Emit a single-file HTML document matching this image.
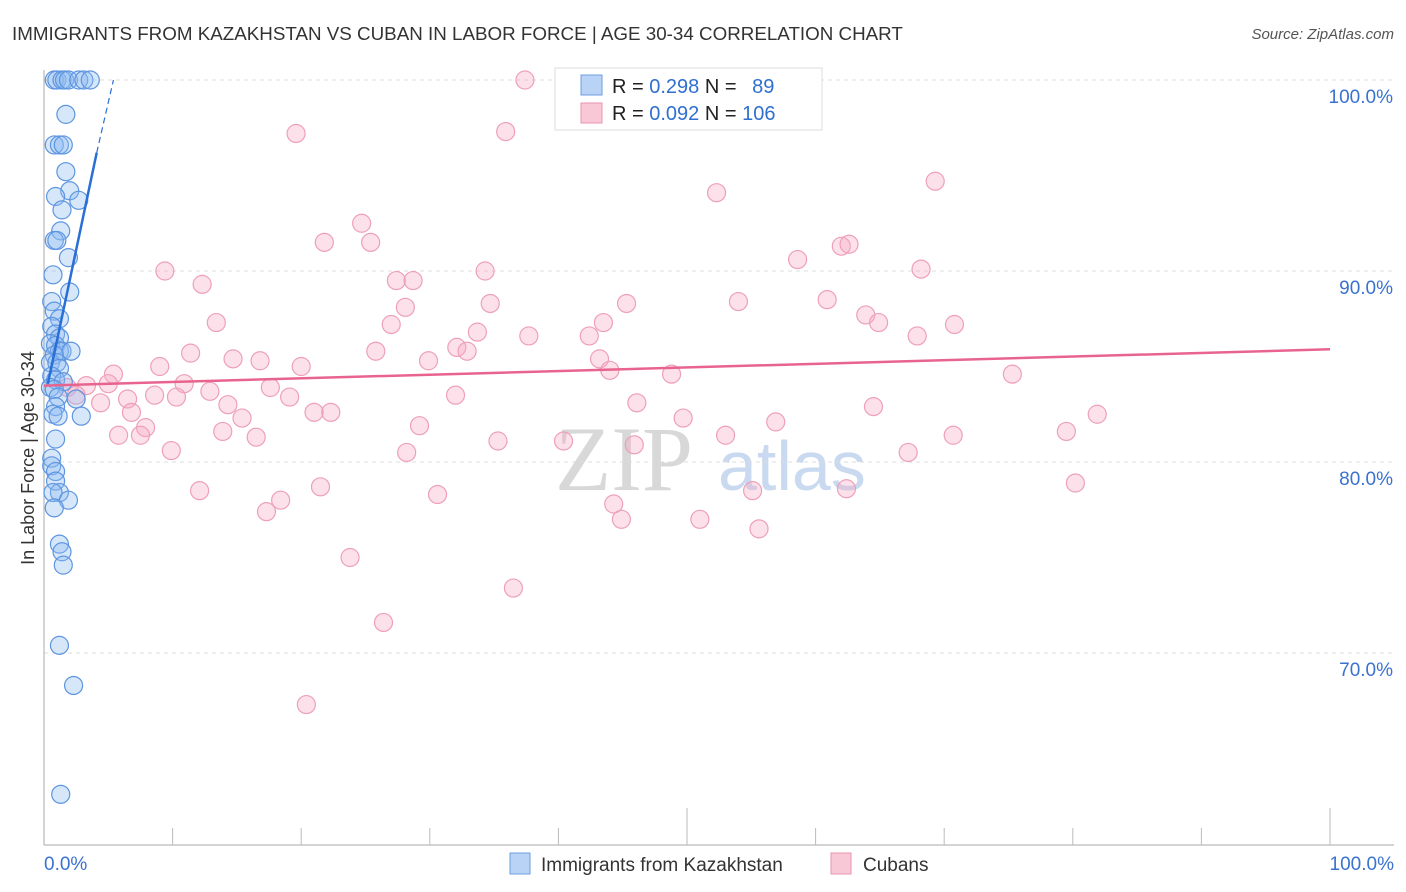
<!DOCTYPE html>
<html><head><meta charset="utf-8"><style>
body{margin:0;background:#fff;font-family:"Liberation Sans",sans-serif}
svg{display:block}
</style></head><body>
<svg id="c" width="1406" height="892" xmlns="http://www.w3.org/2000/svg">
<text x="12" y="40" font-size="18.8" fill="#333">IMMIGRANTS FROM KAZAKHSTAN VS CUBAN IN LABOR FORCE | AGE 30-34 CORRELATION CHART</text>
<text x="1394" y="39" font-size="15" fill="#555" text-anchor="end" font-style="italic">Source: ZipAtlas.com</text>
<text x="34" y="458" font-size="18" fill="#333" text-anchor="middle" transform="rotate(-90 34 458)">In Labor Force | Age 30-34</text>
<g><text x="555" y="490" font-size="92" fill="#d8d8d8" font-family="Liberation Serif,serif">ZIP</text><text x="718" y="490" font-size="70" fill="#c9daf0">atlas</text></g>
<g id="grid"></g><g id="axes"></g><g id="pts"></g><g id="lines"></g>
<g>
<rect x="555" y="68" width="267" height="62" fill="#fff" stroke="#ddd"/>
<rect x="581" y="75" width="21" height="20" fill="#b8d3f5" stroke="#6e9fe0"/>
<rect x="581" y="103" width="21" height="20" fill="#f9c8d6" stroke="#e895b0"/>
<text x="612" y="93" font-size="20" fill="#222">R = <tspan fill="#2f6fd0">0.298</tspan>   N = <tspan fill="#2f6fd0" dx="10">89</tspan></text>
<text x="612" y="120" font-size="20" fill="#222">R = <tspan fill="#2f6fd0">0.092</tspan>   N = <tspan fill="#2f6fd0">106</tspan></text>
</g>
<g>
<rect x="510" y="853" width="20" height="21" fill="#b8d3f5" stroke="#6e9fe0"/>
<text x="541" y="871" font-size="19" fill="#333">Immigrants from Kazakhstan</text>
<rect x="831" y="853" width="20" height="21" fill="#f9c8d6" stroke="#e895b0"/>
<text x="863" y="871" font-size="19" fill="#333">Cubans</text>
</g>
</svg>
<script>
const yTicks=[100,90,80,70];
const yTickLabels=["100.0%","90.0%","80.0%","70.0%"];
const blueX=[0.8,1,1.4,1.6,1.9,2.7,3.1,3.6,1.7,0.8,1.2,1.5,1.7,2,0.9,2.7,1.4,1.3,0.8,1,1.9,0.7,2,0.6,0.8,1.2,0.6,0.9,1.2,0.5,0.9,1.2,1.4,2.1,0.8,0.5,1,1.2,0.6,0.9,1.5,0.5,0.8,1.1,2.5,0.9,0.7,1.1,2.9,0.9,0.6,0.6,0.9,0.9,1.2,0.7,1.9,0.8,1.2,1.4,1.5,1.2,2.3,1.3];
const blueY=[100,100,100,100,100,100,100,100,98.2,96.6,96.6,96.6,95.2,94.2,93.9,93.7,93.2,92.1,91.6,91.6,90.7,89.8,88.9,88.4,87.9,87.5,87.1,86.7,86.5,86.2,86.1,85.8,85.8,85.8,85.6,85.2,85.2,84.9,84.5,84.3,84.2,83.9,83.8,83.4,83.3,82.9,82.5,82.4,82.4,81.2,80.2,79.8,79.5,79,78.4,78.4,78,77.6,75.7,75.3,74.6,70.4,68.3,62.6];
const pinkX=[37.4,19.6,35.9,52.3,69.3,24.7,21.8,25.4,62,62.6,58.6,9.4,34.3,68.2,12.3,27.4,28.7,34.7,45.3,28.1,54,60.9,63.9,64.9,13.4,27,43.5,33.7,37.7,42.4,67.9,70.8,32.1,32.9,25.8,11.4,29.9,43.2,14.7,16.8,9,20,44,48.8,5.4,75.3,10.9,5,17.6,12.9,3.3,1.8,2.5,8.6,10.3,19.1,32,4.4,6.5,14.3,46.1,64.5,6.8,15.4,21,22.3,49.7,56.9,81.9,29.2,13.9,7.9,5.8,7.5,16.5,35.3,53,40.4,70.7,79.5,45.9,9.9,28.2,67.2,12.1,21.5,55.1,62.4,80.2,30.6,18.4,44.3,17.3,44.9,51,55.6,23.8,36.5,26.4,20.4];
const pinkY=[100,97.2,97.3,94.1,94.7,92.5,91.5,91.5,91.3,91.4,90.6,90,90,90.1,89.3,89.5,89.5,88.3,88.3,88.1,88.4,88.5,87.7,87.3,87.3,87.2,87.3,86.8,86.6,86.6,86.6,87.2,86,85.8,85.8,85.7,85.3,85.4,85.4,85.3,85,85,84.8,84.6,84.6,84.6,84.1,84.1,83.9,83.7,84,83.9,83.5,83.5,83.4,83.4,83.5,83.1,83.3,83,83.1,82.9,82.6,82.3,82.6,82.6,82.3,82.1,82.5,81.9,81.6,81.8,81.4,81.4,81.3,81.1,81.4,81.1,81.4,81.6,80.9,80.6,80.5,80.5,78.5,78.7,78.5,78.6,78.9,78.3,78,77.8,77.4,77,77,76.5,75,73.4,71.6,67.3];
const NS="http://www.w3.org/2000/svg";
const X=v=>44+v*12.86, Y=v=>844-(v-60)*19.1;
function mk(t,a,p){const e=document.createElementNS(NS,t);for(const k in a)e.setAttribute(k,a[k]);p.appendChild(e);return e;}
const grid=document.getElementById('grid'),axes=document.getElementById('axes'),pts=document.getElementById('pts'),lines=document.getElementById('lines');
yTicks.forEach((t,i)=>{
 const l=mk('line',{x1:44,x2:1394,y1:Y(t),y2:Y(t),stroke:'#ddd','stroke-dasharray':'4 4'},grid);
 
 
 const tx=mk('text',{x:1393,y:Y(t)+23,'font-size':19,fill:'#3a72cf','text-anchor':'end'},grid);tx.textContent=yTickLabels[i];
 
 
});
mk('line',{x1:44,x2:44,y1:70,y2:845,stroke:'#aaa'},axes);
mk('line',{x1:44,x2:1394,y1:845,y2:845,stroke:'#aaa'},axes);
for(let i=1;i<=10;i++){const tl=mk('line',{x1:X(i*10),x2:X(i*10),y1:(i==5||i==10)?808:828,y2:845,stroke:'#bbb'},axes);
 
 }
const x0=mk('text',{x:44,y:870,'font-size':19,fill:'#3a72cf'},axes);x0.textContent='0.0%';


const x1=mk('text',{x:1394,y:870,'font-size':19,fill:'#3a72cf','text-anchor':'end'},axes);x1.textContent='100.0%';


pinkX.forEach((v,i)=>{const c=mk('circle',{cx:X(v),cy:Y(pinkY[i]),r:9,fill:'rgba(246,170,195,0.35)',stroke:'#eea0b8','stroke-width':1.2},pts);
 
 });
blueX.forEach((v,i)=>{const c=mk('circle',{cx:X(v),cy:Y(blueY[i]),r:9,fill:'rgba(140,185,240,0.35)',stroke:'#5d95e0','stroke-width':1.2},pts);
 
 });
const pl=mk('line',{x1:X(0),y1:Y(84),x2:X(100),y2:Y(85.9),stroke:'#e8648f','stroke-width':2.5},lines);


const bl=mk('line',{x1:X(0.3),y1:Y(84.1),x2:X(4.1),y2:Y(96.2),stroke:'#2a6fd6','stroke-width':2.5},lines);


const bd=mk('line',{x1:X(4.1),y1:Y(96.2),x2:X(5.4),y2:Y(100),stroke:'#2a6fd6','stroke-width':1.2,'stroke-dasharray':'6 4'},lines);


</script>
</body></html>
